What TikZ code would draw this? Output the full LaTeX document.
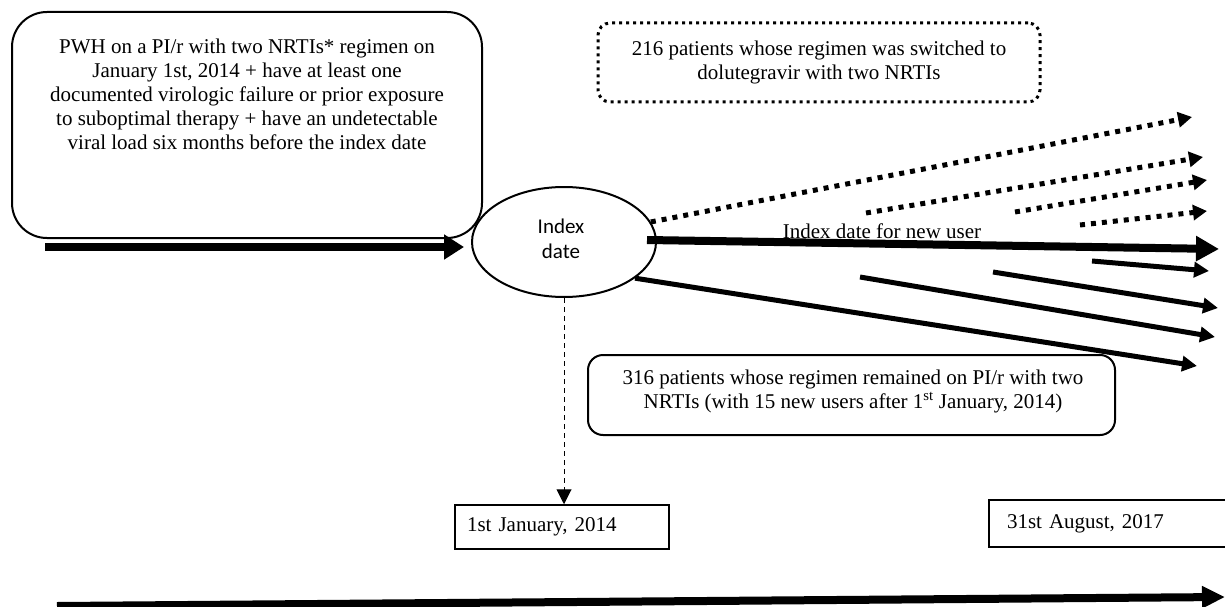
\documentclass[tikz,border=0pt]{standalone}
\usepackage{fontspec}
\setmainfont{Liberation Serif}
\newfontfamily\labelsans{Carlito}
\usetikzlibrary{arrows.meta,shapes.geometric}

\begin{document}
\begin{tikzpicture}[x=1pt,y=-1pt,
  every node/.style={font=\fontsize{21}{24}\selectfont},
  roundbox/.style={draw, line width=2pt},
  datebox/.style={draw, line width=1.5pt, align=left},
  heavyarrow/.style={line width=8pt, -{Triangle[length=20pt,width=24pt]}},
  solidarrow/.style={line width=5pt, -{Triangle[length=15pt,width=15pt]}},
  dotarrow/.style={line width=5pt, dash pattern=on 5pt off 6pt, -{Triangle[length=14pt,width=15pt]}},
  guidearrow/.style={line width=1pt, dash pattern=on 5pt off 4pt, -{Triangle[length=15pt,width=15pt]}}
]
\useasboundingbox (0,0) rectangle (1225,607);

% inclusion criteria
\node[roundbox, rounded corners=35pt, minimum width=470pt, minimum height=226pt] (pwh) at (247,125) {};
\node[anchor=north, align=center, inner sep=0pt] (pwhtext) at (247,38.5)
  {PWH on a PI/r with two NRTIs* regimen on\\
   January 1st, 2014 + have at least one\\
   documented virologic failure or prior exposure\\
   to suboptimal therapy + have an undetectable\\
   viral load six months before the index date};

% index date
\node[ellipse, draw, line width=2pt, minimum width=184pt, minimum height=110pt] (idx) at (564,242) {};
\node[align=center, inner sep=0pt, font=\labelsans\fontsize{21}{25}\selectfont] (idxtext) at (561,239) {Index\\date};

% switched group
\node[draw, line width=3pt, dash pattern=on 3pt off 4pt, rounded corners=12pt,
      minimum width=442pt, minimum height=79pt, align=center] (dtg) at (819,62.5)
  {216 patients whose regimen was switched to\\ dolutegravir with two NRTIs};

% remained group
\node[roundbox, rounded corners=15pt, minimum width=527pt, minimum height=80pt] (pir) at (851.5,395) {};
\node[align=center, inner sep=0pt] (pirtext) at (853,391)
  {316 patients whose regimen remained on PI/r with two\\
   NRTIs (with 15 new users after 1\textsuperscript{st} January, 2014)};

% dates
\node[datebox, minimum width=214pt, minimum height=44pt, text width=190pt, inner xsep=12pt] (jan) at (562,527) {1st January, 2014};
\node[datebox, minimum height=47pt, text width=205pt, inner xsep=18pt] (aug) at (1109.5,523.5) {31st August, 2017};

% free ends of the connectors
\coordinate (inS) at (45,247);   \coordinate (inE) at (464,247);
\coordinate (nuS) at (647,240);  \coordinate (nuE) at (1219,249);
\coordinate (d1E) at (1192,117);
\coordinate (d2S) at (866,213);  \coordinate (d2E) at (1203,157);
\coordinate (d3S) at (1015,212); \coordinate (d3E) at (1207,180);
\coordinate (d4S) at (1080,225); \coordinate (d4E) at (1207,211);
\coordinate (s1S) at (1092,261); \coordinate (s1E) at (1209,271);
\coordinate (s2S) at (993,272);  \coordinate (s2E) at (1218,308);
\coordinate (s3S) at (860,277);  \coordinate (s3E) at (1215,337);
\coordinate (s4E) at (1197,366);
\coordinate (axS) at (57,606);   \coordinate (axE) at (1225,597);

% entry into the cohort
\draw[heavyarrow] (inS) -- (inE);

% switched patients
\draw[dotarrow] (idx.13) -- (d1E);
\draw[dotarrow] (d2S) -- (d2E);
\draw[dotarrow] (d3S) -- (d3E);
\draw[dotarrow] (d4S) -- (d4E);

% new users
\draw[heavyarrow, -{Triangle[length=23pt,width=24pt]}] (nuS) -- (nuE);
\node[anchor=base, inner sep=0pt] (nulabel) at (882,238) {Index date for new user};

% patients remaining on PI/r
\draw[solidarrow] (s1S) -- (s1E);
\draw[solidarrow] (s2S) -- (s2E);
\draw[solidarrow] (s3S) -- (s3E);
\draw[solidarrow] (idx.-27) -- (s4E);

% index date to calendar start
\draw[guidearrow] (idx.south) -- (idx.south |- jan.north);

% time axis
\draw[line width=8pt, -{Triangle[length=23pt,width=21pt]}] (axS) -- (axE);
\end{tikzpicture}
\end{document}
